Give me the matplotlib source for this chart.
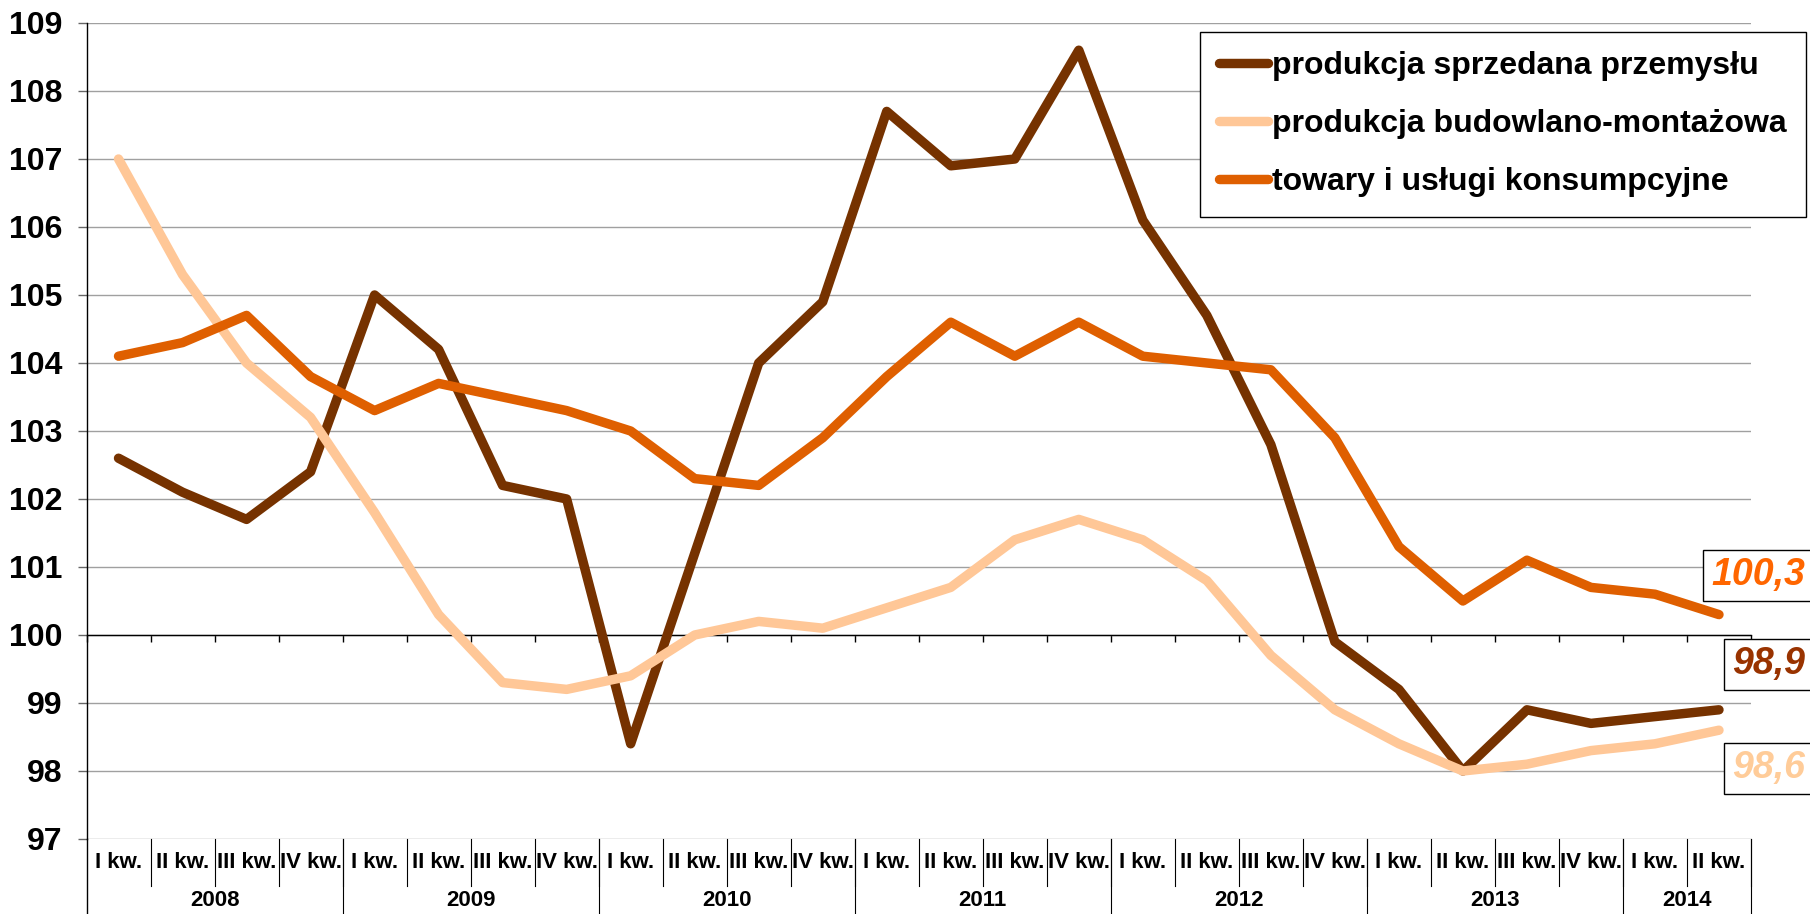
#!/usr/bin/env python3
import matplotlib
matplotlib.use("Agg")
import matplotlib.pyplot as plt

plt.rcParams['font.family'] = ['Liberation Sans', 'DejaVu Sans']
plt.rcParams['font.weight'] = 'bold'

# categories: quarters from 2008 I kw. to 2014 II kw.
quarters = ["I kw.", "II kw.", "III kw.", "IV kw."] * 6 + ["I kw.", "II kw."]
years = ["2008", "2009", "2010", "2011", "2012", "2013", "2014"]
quarters_per_year = [4, 4, 4, 4, 4, 4, 2]

# series values
przemysl = [102.6, 102.1, 101.7, 102.4,
            105.0, 104.2, 102.2, 102.0,
            98.4, 101.2, 104.0, 104.9,
            107.7, 106.9, 107.0, 108.6,
            106.1, 104.7, 102.8, 99.9,
            99.2, 98.0, 98.9, 98.7,
            98.8, 98.9]
budownictwo = [107.0, 105.3, 104.0, 103.2,
               101.8, 100.3, 99.3, 99.2,
               99.4, 100.0, 100.2, 100.1,
               100.4, 100.7, 101.4, 101.7,
               101.4, 100.8, 99.7, 98.9,
               98.4, 98.0, 98.1, 98.3,
               98.4, 98.6]
konsumpcja = [104.1, 104.3, 104.7, 103.8,
              103.3, 103.7, 103.5, 103.3,
              103.0, 102.3, 102.2, 102.9,
              103.8, 104.6, 104.1, 104.6,
              104.1, 104.0, 103.9, 102.9,
              101.3, 100.5, 101.1, 100.7,
              100.6, 100.3]

series_values = [przemysl, budownictwo, konsumpcja]
series_names = ["produkcja sprzedana przemysłu",
                "produkcja budowlano-montażowa",
                "towary i usługi konsumpcyjne"]
series_colors = ["#763200", "#FFC797", "#DF5F00"]
end_label_colors = ["#993300", "#FFCC99", "#FF6600"]
# vertical position (data units) of the boxed end labels
end_label_y = [99.57, 98.04, 100.88]

W, H = 1810, 914
AX_LEFT, AX_RIGHT, AX_TOP, AX_BOTTOM = 86.5, 1751, 23, 839


def main():
    fig = plt.figure(figsize=(W / 100, H / 100), dpi=100)
    ax = fig.add_axes([AX_LEFT / W, 1 - AX_BOTTOM / H,
                       (AX_RIGHT - AX_LEFT) / W, (AX_BOTTOM - AX_TOP) / H])

    n = len(quarters)
    x = [i + 0.5 for i in range(n)]

    # data lines (later series drawn on top, like the original)
    for k, (vals, name, col) in enumerate(zip(series_values, series_names, series_colors)):
        ax.plot(x, vals, color=col, lw=6.8, label=name, zorder=3 + k,
                solid_capstyle='round', solid_joinstyle='round')

    ax.set_xlim(0, n)
    ax.set_ylim(97, 109)
    ax.set_yticks(range(97, 110))
    ax.tick_params(axis='y', labelsize=23, length=6.5, width=1, color='#666666', pad=11)
    for lab in ax.get_yticklabels():
        lab.set_fontweight('bold')

    # gridlines
    ax.grid(axis='y', color='#a0a0a0', lw=1.0, zorder=0)
    ax.set_axisbelow(True)

    # category axis crosses at 100
    for s in ['top', 'right']:
        ax.spines[s].set_visible(False)
    ax.spines['bottom'].set_position(('data', 100))
    ax.spines['bottom'].set_linewidth(1)
    ax.spines['left'].set_linewidth(1)
    ax.set_xticks(range(n + 1))
    ax.set_xticklabels([])
    ax.tick_params(axis='x', length=5, width=1, direction='out')

    # two-level category labels under the plot
    trans = ax.get_xaxis_transform()
    px = 1.0 / (AX_BOTTOM - AX_TOP)
    ax.plot([0, 0], [0, -0.2], transform=trans, color='black', lw=1, clip_on=False)
    for i, q in enumerate(quarters):
        ax.text(i + 0.5, -23 * px, q, transform=trans, ha='center', va='center',
                fontsize=16, fontweight='bold')
        ax.plot([i + 1, i + 1], [0, -47 * px], transform=trans, color='black',
                lw=0.8, clip_on=False)
    pos = 0
    for year, cnt in zip(years, quarters_per_year):
        ax.text(pos + cnt / 2, -61 * px, year, transform=trans, ha='center',
                va='center', fontsize=16, fontweight='bold')
        pos += cnt
        ax.plot([pos, pos], [0, -0.2], transform=trans, color='black',
                lw=0.8, clip_on=False)

    # boxed end-values on the right
    for vals, col, ly in zip(series_values, end_label_colors, end_label_y):
        txt = f"{vals[-1]:.1f}".replace('.', ',')
        ax.text(26.84, ly, txt, color=col, fontsize=27, fontweight='bold',
                fontstyle='italic', ha='right', va='center', clip_on=False,
                bbox=dict(boxstyle='square,pad=0.2', fc='white', ec='black', lw=1))

    # legend
    leg = ax.legend(loc='upper right', bbox_to_anchor=(1806 / W, 1 - 32 / H),
                    bbox_transform=fig.transFigure, borderaxespad=0,
                    fontsize=23, handlelength=1.55, handletextpad=0.12,
                    labelspacing=0.88, borderpad=0.6, fancybox=False,
                    framealpha=1, edgecolor='black')
    leg.get_frame().set_linewidth(1)
    leg.set_zorder(10)
    for t in leg.get_texts():
        t.set_fontweight('bold')

    fig.savefig("out.png", dpi=100)


if __name__ == "__main__":
    main()
